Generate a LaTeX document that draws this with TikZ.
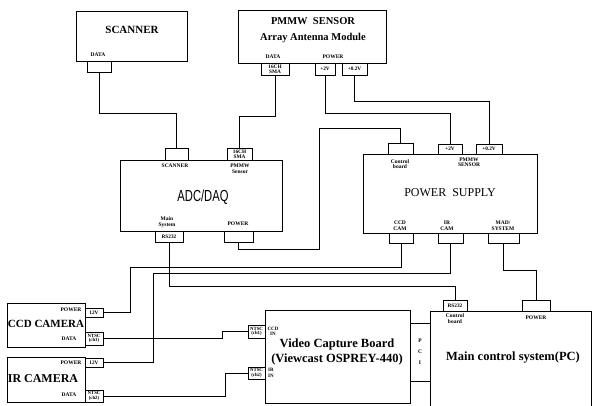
\documentclass[tikz,border=0pt]{standalone}
\usepackage{fontspec}
\setmainfont{Liberation Serif}
\newfontfamily\adcsans{Liberation Sans}
\begin{document}
\begin{tikzpicture}[x=1pt,y=-1pt]
\tikzset{
 blk/.style={draw, line width=0.9pt, inner sep=0pt},
 prt/.style={draw, line width=0.7pt, inner sep=0pt, align=center, font=\fontsize{5.3}{4.8}\selectfont\bfseries},
 wire/.style={line width=0.8pt},
 lbl/.style={inner sep=0pt, align=center, font=\fontsize{5.5}{5.5}\selectfont\bfseries},
 ttl/.style={inner sep=0pt, align=center, font=\fontsize{11}{13}\selectfont\bfseries},
}
\useasboundingbox (0,0) rectangle (594,406);
\clip (0,0) rectangle (594,406);

% ---- blocks
\node[blk, minimum width=111pt, minimum height=50pt] (scanner) at (131.5,36) {};
\node[blk, minimum width=148pt, minimum height=53pt] (pmmw) at (312,36.5) {};
\node[blk, minimum width=162pt, minimum height=71pt] (adc) at (201,195.5) {};
\node[blk, minimum width=174pt, minimum height=79pt] (ps) at (450,193.5) {};
\node[blk, minimum width=78pt, minimum height=44pt] (ccd) at (46,325) {};
\node[blk, minimum width=78pt, minimum height=45pt] (ir) at (46,379.5) {};
\node[blk, minimum width=145pt, minimum height=93pt] (vcb) at (337.5,356.5) {};
\node[blk, minimum width=20pt, minimum height=58pt] (pci) at (420,352) {};
\node[blk, minimum width=161pt, minimum height=110pt] (pc) at (510.5,366) {};

% ---- ports
\node[prt, minimum width=24pt, minimum height=11pt] (scData) at (99,66.5) {};
\node[prt, minimum width=28pt, minimum height=12pt] (pmSMA) at (275,69) {16CH\\SMA};
\node[prt, minimum width=20pt, minimum height=12pt] (pmTwoV) at (325,69) {+2V};
\node[prt, minimum width=25pt, minimum height=12pt] (pmPtTwoV) at (354.5,69) {+0.2V};
\node[prt, minimum width=23pt, minimum height=12pt] (adcScan) at (176.5,154) {};
\node[prt, minimum width=25pt, minimum height=12pt] (adcSMA) at (239.5,154) {16CH\\SMA};
\node[prt, minimum width=28pt, minimum height=11pt] (adcRS) at (169,236.5) {RS232};
\node[prt, minimum width=29pt, minimum height=11pt] (adcPow) at (238.5,236.5) {};
\node[prt, minimum width=25pt, minimum height=11pt] (psCtl) at (400.5,148.5) {};
\node[prt, minimum width=24pt, minimum height=10pt] (psTwoV) at (450,149) {+2V};
\node[prt, minimum width=26pt, minimum height=10pt] (psPtTwoV) at (489,149) {+0.2V};
\node[prt, minimum width=24pt, minimum height=10pt] (psCCD) at (401,238) {};
\node[prt, minimum width=25pt, minimum height=10pt] (psIR) at (450.5,238) {};
\node[prt, minimum width=31pt, minimum height=10pt] (psMAD) at (503.5,238) {};
\node[prt, minimum width=18pt, minimum height=9pt] (ccdPow) at (94,312.5) {12V};
\node[prt, minimum width=18pt, minimum height=13pt, font=\fontsize{4.8}{4.6}\selectfont\bfseries] (ccdData) at (94,338.5) {NTSC\\(ch1)};
\node[prt, minimum width=18pt, minimum height=9pt] (irPow) at (94,362.5) {12V};
\node[prt, minimum width=18pt, minimum height=12pt, font=\fontsize{4.8}{4.6}\selectfont\bfseries] (irData) at (94,396) {NTSC\\(ch2)};
\node[prt, minimum width=17pt, minimum height=13pt, font=\fontsize{4.8}{4.6}\selectfont\bfseries] (vcbCCD) at (256.5,331.5) {NTSC\\(ch1)};
\node[prt, minimum width=17pt, minimum height=12pt, font=\fontsize{4.8}{4.6}\selectfont\bfseries] (vcbIR) at (256.5,373) {NTSC\\(ch2)};
\node[prt, minimum width=24pt, minimum height=11pt] (pcRS) at (455,305.5) {RS232};
\node[prt, minimum width=28pt, minimum height=11pt] (pcPow) at (536,305.5) {};

% ---- titles
\node[ttl] (tScan) at (132,30) {SCANNER};
\node[ttl, font=\fontsize{10.5}{16}\selectfont\bfseries] (tPmmw) at (313,30.5) {PMMW\ \ SENSOR\\Array Antenna Module};
\node[inner sep=0pt] (tAdc) at (203,197) {\scalebox{0.7}[1]{\adcsans\fontsize{16}{16}\selectfont ADC/DAQ}};
\node[inner sep=0pt, font=\fontsize{12}{12}\selectfont] (tPs) at (450,193) {POWER\ \ SUPPLY};
\node[ttl, font=\fontsize{11}{12}\selectfont\bfseries] (tCcd) at (46,324) {CCD CAMERA};
\node[ttl, font=\fontsize{12}{12}\selectfont\bfseries] (tIr) at (43,379) {IR CAMERA};
\node[ttl, font=\fontsize{12.5}{15}\selectfont\bfseries] (tVcb) at (337,352) {Video Capture Board\\(Viewcast OSPREY-440)};
\node[ttl, font=\fontsize{12.5}{12.5}\selectfont\bfseries] (tPc) at (513,358) {Main control system(PC)};

% ---- small labels
\node[lbl] (lScData) at (98,55) {DATA};
\node[lbl] (lPmData) at (273,57) {DATA};
\node[lbl] (lPmPow) at (333,57) {POWER};
\node[lbl] (lAdcScan) at (175,166) {SCANNER};
\node[lbl] (lAdcPmmw) at (240,168.5) {PMMW\\Sensor};
\node[lbl] (lAdcMain) at (167,222) {Main\\System};
\node[lbl] (lAdcPow) at (238,224) {POWER};
\node[lbl] (lPsCtl) at (400,164) {Control\\board};
\node[lbl] (lPsPmmw) at (469,162) {PMMW\\SENSOR};
\node[lbl] (lPsCcd) at (400,225.5) {CCD\\CAM};
\node[lbl] (lPsIr) at (447,225.5) {IR\\CAM};
\node[lbl] (lPsMad) at (503,225.5) {MAD/\\SYSTEM};
\node[lbl] (lCcdPow) at (71,309.5) {POWER};
\node[lbl] (lCcdData) at (69,339) {DATA};
\node[lbl] (lIrPow) at (71,362.5) {POWER};
\node[lbl] (lIrData) at (69,395) {DATA};
\node[lbl, font=\fontsize{5}{5.5}\selectfont\bfseries] (lVcbCcd) at (273,331.5) {CCD\\IN};
\node[lbl, font=\fontsize{5}{5.5}\selectfont\bfseries] (lVcbIr) at (271,373) {IR\\IN};
\node[lbl, font=\fontsize{5.5}{11}\selectfont\bfseries] (lPci) at (420,352) {P\\C\\I};
\node[lbl] (lPcCtl) at (455,318.5) {Control\\board};
\node[lbl] (lPcPow) at (536,317.5) {POWER};

% ---- connectors
\draw[wire] (scData.south) -- ++(0,41) -| (adcScan.north);
\draw[wire] (pmSMA.south) -- ++(0,41) -| (adcSMA.north);
\draw[wire] (pmTwoV.south) -- ++(0,38) -| (psTwoV.north);
\draw[wire] (pmPtTwoV.south) -- ++(0,26) -| (psPtTwoV.north);
\draw[wire] (adcPow.south) -- ++(0,7) -| (319,128) -| (psCtl.north);
\draw[wire] (psCCD.south) |- (130,267) |- (ccdPow.east);
\draw[wire] (psIR.south) |- (153,273) |- (irPow.east);
\draw[wire] (psMAD.south) |- (536,270) -- (pcPow.north);
\draw[wire] (adcRS.south) |- (455,286) -- (pcRS.north);
\draw[wire] (ccdData.east) -| (222,331.5) -- (vcbCCD.west);
\draw[wire] (irData.east) -| (225,373) -- (vcbIR.west);
\end{tikzpicture}
\end{document}
